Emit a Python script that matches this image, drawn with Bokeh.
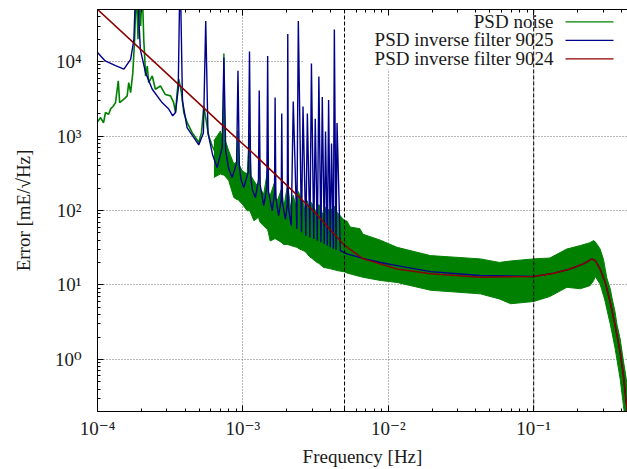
from bokeh.plotting import figure
from bokeh.models import (FixedTicker, CustomJSTickFormatter, LogAxis, Span, Label,
                          BoxAnnotation, Range1d)
from bokeh.embed import file_html
from bokeh.resources import INLINE

# ---------------- data ----------------
x_ticks = [1e-4, 1e-3, 1e-2, 1e-1]
x_tick_labels = ["10⁻⁴", "10⁻³", "10⁻²", "10⁻¹"]
y_ticks = [1e0, 1e1, 1e2, 1e3, 1e4]
y_tick_labels = ["10⁰", "10¹", "10²", "10³", "10⁴"]
marker_freqs = [5e-3, 1e-1]

legend_labels = ["PSD noise", "PSD inverse filter 9025", "PSD inverse filter 9024"]

# PSD noise, low-frequency part (a single noisy trace)
noise_lf_f = [1.00e-4, 1.05e-4, 1.10e-4, 1.135e-4, 1.19e-4, 1.23e-4, 1.29e-4, 1.33e-4, 1.39e-4, 1.42e-4,
              1.52e-4, 1.60e-4, 1.64e-4, 1.69e-4, 1.75e-4, 1.80e-4, 1.85e-4, 1.90e-4, 1.94e-4, 1.98e-4,
              2.03e-4, 2.08e-4, 2.11e-4, 2.14e-4, 2.20e-4, 2.25e-4, 2.38e-4, 2.50e-4, 2.71e-4, 2.93e-4,
              3.18e-4, 3.34e-4, 3.44e-4, 3.53e-4, 3.62e-4, 3.78e-4, 3.92e-4, 4.13e-4, 4.48e-4, 4.72e-4,
              4.97e-4, 5.19e-4, 5.38e-4, 5.52e-4, 5.82e-4, 6.14e-4, 6.47e-4]
noise_lf_v = [1550, 1770, 1500, 2070, 1950, 2300, 2550, 2810, 5500, 2810,
              3120, 3460, 5200, 3830, 7100, 19900, 100000, 19900, 100000, 30000,
              100000, 19900, 11900, 6400, 8700, 5200, 6400, 4250, 4700, 3600,
              3460, 2810, 2070, 3830, 5800, 3830, 2070, 1520, 1110, 955,
              818, 1110, 2500, 1870, 1000, 740, 601]

# PSD noise, dense part: upper and lower envelope of the band
band_f = [6.32e-4, 7.00e-4, 7.28e-4, 7.40e-4, 7.52e-4, 7.99e-4, 8.65e-4, 9.10e-4, 9.25e-4, 9.40e-4,
          9.87e-4, 1.07e-3, 1.11e-3, 1.14e-3, 1.19e-3, 1.28e-3, 1.295e-3, 1.31e-3, 1.39e-3, 1.48e-3,
          1.50e-3, 1.54e-3, 1.665e-3, 1.69e-3, 1.74e-3, 1.85e-3, 1.91e-3, 2.035e-3, 2.12e-3, 2.22e-3,
          2.36e-3, 2.405e-3, 2.59e-3, 2.69e-3, 2.775e-3, 2.90e-3, 2.96e-3, 3.24e-3, 3.33e-3, 3.58e-3,
          3.70e-3, 3.99e-3, 4.255e-3, 4.44e-3, 5.0e-3, 5.2e-3, 5.46e-3, 6.37e-3, 6.7e-3, 8.8e-3,
          1.15e-2, 1.95e-2, 4.29e-2, 5.8e-2, 6.95e-2, 0.1, 0.129, 0.169, 0.209, 0.244,
          0.258, 0.265, 0.286, 0.302, 0.31, 0.318, 0.336, 0.345, 0.363, 0.373,
          0.393, 0.414, 0.426, 0.446]
band_hi = [862, 1170, 900, 12800, 900, 633, 424, 450, 1170, 420,
           341, 310, 1070, 290, 251, 204, 420, 200, 166, 350,
           165, 160, 250, 145, 140, 200, 110, 230, 110, 160,
           99, 180, 130, 95, 135, 92, 128, 90, 120, 85,
           110, 99, 115, 95, 73, 72, 60, 57, 48, 40,
           32, 24.8, 22.4, 20.1, 21, 22.4, 23, 30.4, 33.8, 37,
           39.4, 38, 30.5, 22, 16.4, 12.5, 8.87, 6.8, 4.3, 3.0,
           1.89, 0.95, 0.676, 0.365]
band_lo = [278, 310, 300, 300, 290, 252, 150, 140, 140, 135,
           123, 99, 100, 90, 73, 81, 75, 70, 62, 55,
           50, 39, 42, 41, 40, 37, 35, 35, 34, 33,
           32, 31, 29, 28, 26, 23.5, 23, 20, 19.5, 17.2,
           17, 16.5, 16, 15.6, 15, 14.5, 14.1, 13, 12.7, 11.5,
           10.8, 8.5, 7.6, 6.5, 5.6, 6.0, 7.0, 9.3, 8.9, 9.8,
           11.4, 13, 10.3, 7.2, 6.0, 4.78, 3.0, 2.32, 1.4, 1.02,
           0.55, 0.242, 0.15, 0.1]

# PSD inverse filter 9025 (comb of resonances)
inv9025_f = [1.00e-4, 1.13e-4, 1.33e-4, 1.52e-4, 1.69e-4, 1.78e-4, 1.85e-4, 1.97e-4, 2.14e-4, 2.38e-4,
             2.78e-4, 3.09e-4, 3.29e-4, 3.44e-4, 3.59e-4, 3.70e-4, 3.84e-4, 4.13e-4, 4.97e-4, 5.35e-4,
             5.55e-4, 5.75e-4, 6.20e-4, 6.65e-4, 7.20e-4, 7.40e-4, 7.62e-4, 8.00e-4, 8.43e-4, 9.05e-4,
             9.25e-4, 9.45e-4, 9.70e-4, 1.013e-3, 1.09e-3, 1.11e-3, 1.13e-3, 1.16e-3, 1.22e-3, 1.28e-3,
             1.295e-3, 1.315e-3, 1.39e-3, 1.46e-3, 1.48e-3, 1.50e-3, 1.59e-3, 1.65e-3, 1.665e-3, 1.685e-3,
             1.76e-3, 1.835e-3, 1.85e-3, 1.87e-3, 1.96e-3, 2.02e-3, 2.035e-3, 2.055e-3, 2.15e-3, 2.22e-3,
             2.35e-3, 2.405e-3, 2.53e-3, 2.59e-3, 2.71e-3, 2.775e-3, 2.89e-3, 2.96e-3, 3.07e-3, 3.145e-3,
             3.25e-3, 3.33e-3, 3.44e-3, 3.515e-3, 3.63e-3, 3.70e-3, 3.81e-3, 3.885e-3, 3.99e-3, 4.07e-3,
             4.19e-3, 4.255e-3, 4.37e-3, 4.44e-3, 4.68e-3, 5.2e-3, 6.7e-3, 8.8e-3, 1.15e-2, 1.95e-2,
             4.29e-2, 0.1, 0.138, 0.178, 0.22, 0.251, 0.265, 0.286, 0.31, 0.336,
             0.363, 0.393, 0.414, 0.43, 0.44, 0.45]
inv9025_v = [13200, 10200, 8800, 7900, 10700, 19900, 200000, 14600, 7100, 4250,
             2810, 2300, 1870, 2070, 4250, 200000, 2960, 1300, 760, 1100,
             35000, 1100, 550, 378, 700, 11300, 620, 360, 278, 430,
             7500, 400, 260, 204, 330, 13600, 300, 190, 150, 260,
             4100, 220, 116, 200, 11900, 180, 99, 170, 3300, 150,
             85, 140, 2000, 130, 76, 120, 23500, 110, 62.5, 2900,
             56.5, 35000, 50.9, 2500, 45.9, 2000, 43.6, 9400, 41.5, 1700,
             39.4, 6300, 37.4, 3350, 35.6, 1150, 33.8, 3050, 32.0, 795,
             30.7, 27000, 29.8, 1490, 28.9, 26.1, 22.8, 20.0, 18.2, 15.1,
             13.4, 13.0, 14.4, 16.4, 19.2, 22.4, 21.2, 16.4, 10.9, 5.86,
             2.86, 1.25, 0.61, 0.297, 0.2, 0.12]

# PSD inverse filter 9024 (smooth)
inv9024_f = [1.0e-4, 2.71e-4, 8.2e-4, 1.16e-3, 1.87e-3, 3.05e-3, 3.99e-3, 5.0e-3, 6.73e-3, 1.15e-2,
             1.95e-2, 4.29e-2, 0.1, 0.138, 0.178, 0.22, 0.251, 0.265, 0.286, 0.31,
             0.336, 0.363, 0.393, 0.414, 0.43, 0.44, 0.45]
inv9024_v = [50200, 8300, 1110, 601, 248, 99.4, 55, 34, 22.4, 16.4,
             14.1, 12.7, 13.0, 14.4, 16.4, 19.2, 22.4, 21.2, 16.4, 10.9,
             5.86, 2.86, 1.25, 0.61, 0.297, 0.2, 0.12]

# ---------------- styling ----------------
FONT = "'Liberation Serif', 'DejaVu Serif', serif"
GREEN = "#008000"
BLUE = "#00008b"
RED = "#8b0000"
TEXT = "#1a1a1a"
series_colors = [GREEN, BLUE, RED]

p = figure(width=627, height=469, x_axis_type="log", y_axis_type="log",
           x_range=Range1d(1e-4, 0.4416), y_range=Range1d(0.2, 5e4),
           output_backend="svg", toolbar_location=None,
           min_border_left=97, min_border_right=0, min_border_top=9, min_border_bottom=58)
p.outline_line_color = None
p.background_fill_color = "white"
p.border_fill_color = "white"

x_minor = [d * t for t in x_ticks for d in range(2, 10)]
y_minor = [d * t for t in [0.1] + y_ticks for d in range(2, 10)]
xticker = FixedTicker(ticks=x_ticks, minor_ticks=x_minor)
yticker = FixedTicker(ticks=y_ticks, minor_ticks=y_minor)

fmt_code = """
const i = vals.findIndex(v => Math.abs(Math.log10(v) - Math.log10(tick)) < 1e-6);
return i >= 0 ? labs[i] : "";
"""
xfmt = CustomJSTickFormatter(args=dict(vals=x_ticks, labs=x_tick_labels), code=fmt_code)
yfmt = CustomJSTickFormatter(args=dict(vals=y_ticks, labs=y_tick_labels), code=fmt_code)


def style_axis(ax):
    ax.axis_line_color = "black"
    ax.axis_line_width = 1
    ax.major_tick_line_color = "black"
    ax.minor_tick_line_color = "black"
    ax.major_tick_in = 6
    ax.major_tick_out = 0
    ax.minor_tick_in = 3
    ax.minor_tick_out = 0
    ax.major_label_text_font = FONT
    ax.major_label_text_font_size = "19px"
    ax.major_label_text_color = TEXT
    ax.axis_label_text_font = FONT
    ax.axis_label_text_font_size = "19px"
    ax.axis_label_text_font_style = "normal"
    ax.axis_label_text_color = TEXT


xa = p.xaxis[0]
xa.ticker = xticker
xa.formatter = xfmt
style_axis(xa)
xa.major_label_standoff = 6
xa.axis_label = "Frequency [Hz]"
xa.axis_label_standoff = 4

ya = p.yaxis[0]
ya.ticker = yticker
ya.formatter = yfmt
style_axis(ya)
ya.major_label_standoff = 16
ya.axis_label = "Error [mE/√Hz]"
ya.axis_label_standoff = 18

top = LogAxis(ticker=xticker, formatter=CustomJSTickFormatter(code="return ''"))
style_axis(top)
top.major_label_text_font_size = "0px"
top.major_label_standoff = 0
p.add_layout(top, "above")

for g, t in ((p.xgrid[0], xticker), (p.ygrid[0], yticker)):
    g.ticker = t
    g.grid_line_color = "#707070"
    g.grid_line_dash = "1 2"
    g.grid_line_width = 1

# white key area (hides the grid under the key, like the original)
p.add_layout(BoxAnnotation(left=206, right=530, bottom=342, top=410,
                           left_units="screen", right_units="screen",
                           bottom_units="screen", top_units="screen",
                           fill_color="white", fill_alpha=1.0, line_color=None,
                           level="underlay"))

# ---------------- series ----------------
p.line(noise_lf_f, noise_lf_v, line_color=GREEN, line_width=1.6)
p.varea(x=band_f, y1=band_lo, y2=band_hi, fill_color=GREEN, fill_alpha=1.0)
p.line(band_f, band_hi, line_color=GREEN, line_width=1)
p.line(band_f, band_lo, line_color=GREEN, line_width=1)
p.line(inv9025_f, inv9025_v, line_color=BLUE, line_width=1.4)
p.line(inv9024_f, inv9024_v, line_color=RED, line_width=1.5)

for f in marker_freqs:
    p.add_layout(Span(location=f, dimension="height", line_color="black",
                      line_dash="4 2", line_width=1))

# ---------------- key ----------------
for i, (lab, col) in enumerate(zip(legend_labels, series_colors)):
    yc = 390.5 - i * 18.5
    p.add_layout(Label(x=456, y=yc, x_units="screen", y_units="screen", text=lab,
                       text_align="right", text_baseline="middle", text_font=FONT,
                       text_font_size="19px", text_color=TEXT))
    p.add_layout(BoxAnnotation(left=468, right=516, bottom=yc - 1.5, top=yc - 0.2,
                               left_units="screen", right_units="screen",
                               bottom_units="screen", top_units="screen",
                               fill_color=col, fill_alpha=1.0, line_color=None))

open("out.html", "w").write(file_html(p, INLINE))
